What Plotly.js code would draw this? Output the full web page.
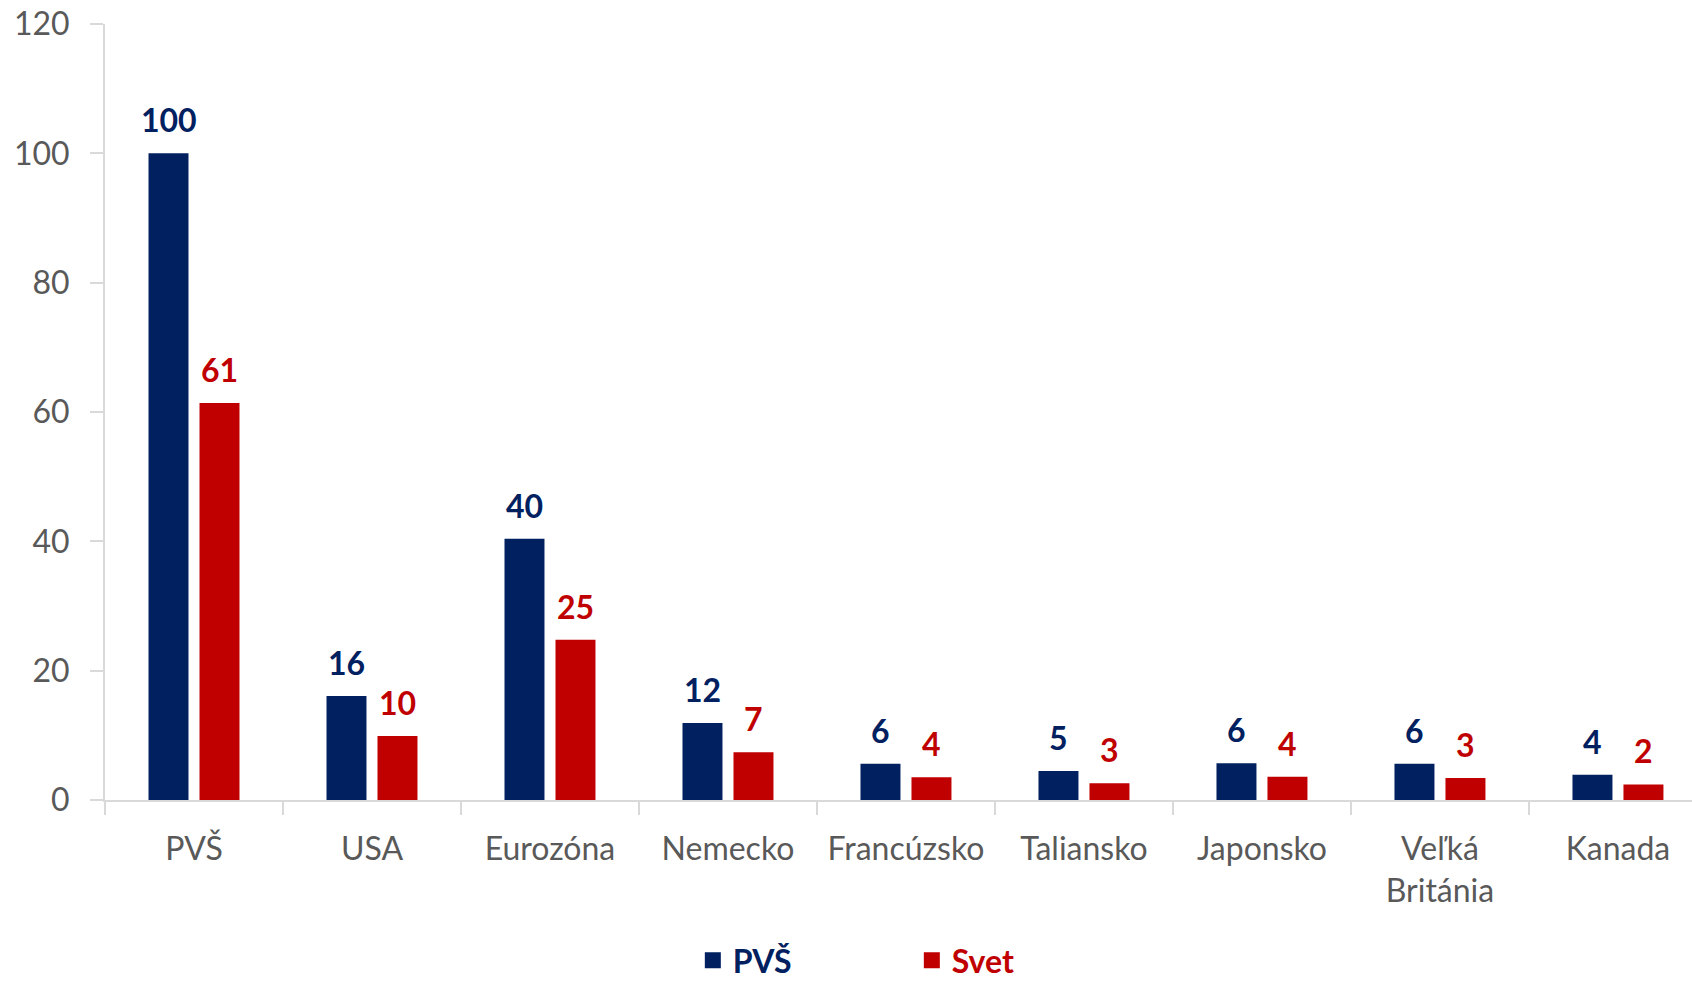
<!DOCTYPE html>
<html>
<head>
<meta charset="utf-8">
<script src="https://cdn.plot.ly/plotly-3.0.1.min.js"></script>
<style>html,body{margin:0;padding:0;background:#fff;}#chart{width:1692px;height:982px;}</style>
</head>
<body>
<div id="chart"></div>
<script>
const categories = ['PVŠ', 'USA', 'Eurozóna', 'Nemecko', 'Francúzsko', 'Taliansko', 'Japonsko', 'Veľká<br>Británia', 'Kanada'];
const pvsValues  = [100, 16.1, 40.4, 11.9, 5.6, 4.5, 5.7, 5.6, 3.9];
const svetValues = [61.4, 9.9, 24.8, 7.4, 3.5, 2.6, 3.6, 3.4, 2.4];
const seriesNames = ['PVŠ', 'Svet'];
const yTicks = [0, 20, 40, 60, 80, 100, 120];

const BLUE = '#002060', RED = '#C00000', GREY = '#595959', AXIS = '#d9d9d9';
const FONT = 'Lato, "Open Sans", sans-serif';
const colors = [BLUE, RED];

const traces = [
  {type: 'bar', x: categories, y: pvsValues, name: seriesNames[0], marker: {color: BLUE},
   showlegend: false, legendgroup: 'a'},
  {type: 'bar', x: categories, y: svetValues, name: seriesNames[1], marker: {color: RED},
   showlegend: false, legendgroup: 'b'}
];
// legend entries (larger square swatches)
seriesNames.forEach((n, k) => {
  traces.push({type: 'scatter', mode: 'markers', x: [null], y: [null],
    name: '<span style="color:' + colors[k] + '">' + n + '</span>',
    marker: {symbol: 'square', size: 16, color: colors[k]}, legendgroup: k ? 'b' : 'a', hoverinfo: 'skip'});
});

const annotations = [];
[[pvsValues, BLUE, -25.5], [svetValues, RED, 25.5]].forEach(([vals, col, dx]) => {
  vals.forEach((v, i) => {
    annotations.push({x: categories[i], y: v, xref: 'x', yref: 'y', text: String(Math.round(v)),
      showarrow: false, xshift: dx, yshift: 12, yanchor: 'bottom',
      font: {family: FONT, size: 32, color: col, weight: 'bold'}});
  });
});

const layout = {
  width: 1692, height: 982,
  margin: {l: 105, r: 0, t: 24, b: 182, autoexpand: false},
  paper_bgcolor: '#fff', plot_bgcolor: '#fff',
  barmode: 'group', bargap: 0.427, bargroupgap: 0.216,
  font: {family: FONT, size: 32, color: GREY},
  xaxis: {type: 'category', range: [-0.5, 8.416], showline: true, linecolor: AXIS, linewidth: 2,
    ticks: 'outside', tickson: 'boundaries', ticklen: 13, tickcolor: AXIS, tickwidth: 2, automargin: false,
    tickfont: {family: FONT, size: 32, color: GREY}, showgrid: false, zeroline: false, ticklabelstandoff: 20},
  yaxis: {range: [0, 120], tickvals: yTicks, showline: true, linecolor: AXIS, linewidth: 2, automargin: false,
    ticks: 'outside', ticklen: 13, tickcolor: AXIS, tickwidth: 2, showgrid: false, zeroline: false,
    tickfont: {family: FONT, size: 32, color: GREY}, ticklabelstandoff: 14},
  showlegend: true,
  legend: {orientation: 'h', x: 0.3704, xanchor: 'left', y: -0.2421, yanchor: 'bottom',
    font: {family: FONT, size: 32, color: GREY, weight: 'bold'}, entrywidth: 174, traceorder: 'normal'},
  annotations: annotations
};

Plotly.newPlot('chart', traces, layout, {displayModeBar: false, staticPlot: true});
</script>
</body>
</html>
